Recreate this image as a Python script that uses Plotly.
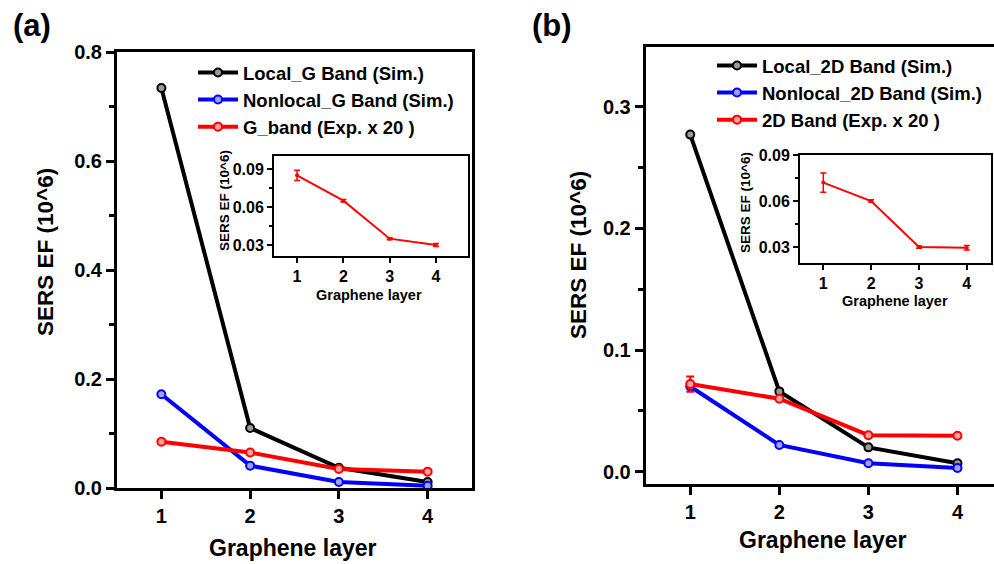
import plotly.graph_objects as go

# ---------------- data ----------------
layers = [1, 2, 3, 4]

a_local = [0.734, 0.110, 0.037, 0.011]
a_nonlocal = [0.172, 0.041, 0.011, 0.004]
a_exp = [0.085, 0.065, 0.035, 0.030]
a_exp_err = [0.004, 0.001, 0.0008, 0.0012]

b_local = [0.277, 0.066, 0.020, 0.007]
b_nonlocal = [0.070, 0.022, 0.007, 0.003]
b_exp = [0.072, 0.060, 0.030, 0.0295]
b_exp_err = [0.0062, 0.0008, 0.0008, 0.0015]

names_a = ["Local_G Band (Sim.)", "Nonlocal_G Band (Sim.)", "G_band (Exp. x 20 )"]
names_b = ["Local_2D Band (Sim.)", "Nonlocal_2D Band (Sim.)", "2D Band (Exp. x 20 )"]

y_title = "SERS EF (10^6)"
x_title = "Graphene layer"

W, H = 994, 564
FONT = "Liberation Sans, Arial, sans-serif"


def fx(p):
    return p / W


def fy(p):
    return 1 - p / H


fig = go.Figure()

colors = ["black", "blue", "red"]
fills = ["#9a9a9a", "#a0a0ff", "#ffa0a0"]


def main_traces(xa, ya, series, names, err, leg):
    for i, (vals, nm) in enumerate(zip(series, names)):
        kw = {}
        if i == 2:
            kw["error_y"] = dict(type="data", array=err, visible=True,
                                 color="red", thickness=2, width=4)
        fig.add_trace(go.Scatter(
            x=layers, y=vals, mode="lines+markers", name=nm,
            line=dict(color=colors[i], width=4),
            marker=dict(symbol="circle", size=8, color=fills[i],
                        line=dict(color=colors[i], width=2)),
            xaxis=xa, yaxis=ya, legend=leg, **kw))


def inset_trace(xa, ya, vals, err):
    fig.add_trace(go.Scatter(
        x=layers, y=vals, mode="lines+markers", showlegend=False,
        line=dict(color="red", width=2),
        marker=dict(symbol="circle", size=4, color="red"),
        error_y=dict(type="data", array=err, visible=True, color="red",
                     thickness=1.5, width=3),
        xaxis=xa, yaxis=ya))


main_traces("x", "y", [a_local, a_nonlocal, a_exp], names_a, a_exp_err, "legend")
inset_trace("x2", "y2", a_exp, a_exp_err)
main_traces("x3", "y3", [b_local, b_nonlocal, b_exp], names_b, b_exp_err, "legend2")
inset_trace("x4", "y4", b_exp, b_exp_err)

tickfont_main = dict(family=FONT, size=20, color="black", weight="bold")
tickfont_inset = dict(family=FONT, size=16, color="black", weight="bold")


def main_x(domain, rng, anchor):
    return dict(domain=domain, range=rng, anchor=anchor, showline=True,
                linewidth=3, linecolor="black", mirror=True, ticks="outside",
                ticklen=8, tickwidth=3, tickcolor="black", tickvals=layers,
                showgrid=False, zeroline=False, tickfont=tickfont_main,
                automargin=False)


def main_y(domain, rng, anchor, dtick, mirror):
    return dict(domain=domain, range=rng, anchor=anchor, showline=True,
                linewidth=3, linecolor="black", mirror=mirror, ticks="outside",
                ticklen=8, tickwidth=3, tickcolor="black", dtick=dtick, tick0=0,
                tickformat=".1f",
                minor=dict(dtick=dtick / 2, ticks="outside", ticklen=5,
                           tickwidth=3, tickcolor="black"),
                showgrid=False, zeroline=False, tickfont=tickfont_main,
                automargin=False)


def inset_x(domain, rng, anchor):
    return dict(domain=domain, range=rng, anchor=anchor, showline=True,
                linewidth=2, linecolor="black", mirror=True, ticks="outside",
                ticklen=5, tickwidth=2, tickcolor="black", tickvals=layers,
                showgrid=False, zeroline=False, tickfont=tickfont_inset,
                automargin=False)


def inset_y(domain, rng, anchor):
    return dict(domain=domain, range=rng, anchor=anchor, showline=True,
                linewidth=2, linecolor="black", mirror=True, ticks="outside",
                ticklen=5, tickwidth=2, tickcolor="black", dtick=0.03, tick0=0,
                tickformat=".2f",
                minor=dict(dtick=0.015, ticks="outside", ticklen=3,
                           tickwidth=2, tickcolor="black"),
                showgrid=False, zeroline=False, tickfont=tickfont_inset,
                automargin=False)


legfont = dict(family=FONT, size=18.5, color="black", weight="bold")

layout = dict(
    width=W, height=H,
    margin=dict(l=0, r=0, t=0, b=0, pad=0, autoexpand=False),
    paper_bgcolor="white", plot_bgcolor="white",
    font=dict(family=FONT, color="black"),
    xaxis=main_x([fx(117), fx(472)], [0.5, 4.5], "y"),
    yaxis=main_y([fy(488), fy(52)], [0, 0.8], "x", 0.2, True),
    xaxis2=inset_x([fx(274), fx(468)], [0.503, 4.69], "y2"),
    yaxis2=inset_y([fy(256), fy(156)], [0.0213, 0.1003], "x2"),
    xaxis3=main_x([fx(645.7), 1.0], [0.5, 4.41], "y3"),
    yaxis3=main_y([fy(484), fy(47)], [-0.0101, 0.349], "x3", 0.1, False),
    xaxis4=inset_x([fx(800), fx(990.7)], [0.513, 4.50], "y4"),
    yaxis4=inset_y([fy(263), fy(155)], [0.0196, 0.09], "x4"),
    legend=dict(x=fx(193), y=fy(54), xanchor="left", yanchor="top",
                bgcolor="rgba(0,0,0,0)", font=legfont,
                itemwidth=40, tracegroupgap=0),
    legend2=dict(x=fx(712), y=fy(47), xanchor="left", yanchor="top",
                 bgcolor="rgba(0,0,0,0)", font=legfont,
                 itemwidth=40, tracegroupgap=0),
)
fig.update_layout(**layout)

ann = []


def text(x, y, s, size, angle=0):
    ann.append(dict(x=fx(x), y=fy(y), xref="paper", yref="paper", text=s,
                    showarrow=False, textangle=angle, xanchor="center",
                    yanchor="middle",
                    font=dict(family=FONT, size=size, color="black", weight="bold")))


text(32, 25, "(a)", 31)
text(552, 25, "(b)", 31)
text(45, 252, y_title, 22.5, -90)
text(578, 255, y_title, 22.5, -90)
text(293, 548, x_title, 23)
text(823, 540, x_title, 23)
text(224, 201, y_title, 13.5, -90)
text(745, 203, y_title, 13.5, -90)
text(369, 295, x_title, 14.5)
text(895, 301, x_title, 14.5)

fig.update_layout(annotations=ann)
fig.write_html("out.html")
